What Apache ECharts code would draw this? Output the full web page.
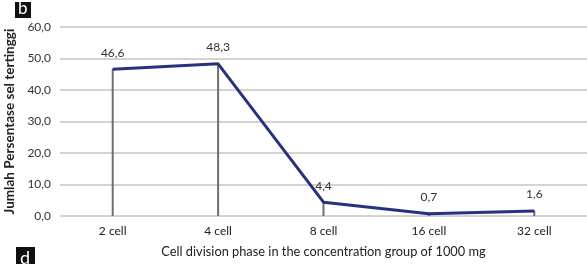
<!DOCTYPE html>
<html>
<head>
<meta charset="utf-8">
<script src="https://cdn.jsdelivr.net/npm/echarts@6/dist/echarts.min.js"></script>
<style>
  html, body { margin: 0; padding: 0; background: #fff; }
  #main { width: 587px; height: 264px; }
</style>
</head>
<body>
<div id="main"></div>
<script>
// fase pembelahan sel
const categories = ['2 cell', '4 cell', '8 cell', '16 cell', '32 cell'];
const percentValues = [46.6, 48.3, 4.4, 0.7, 1.6];
const yTicks = [0, 10, 20, 30, 40, 50, 60];

const fmt = v => v.toFixed(1).replace('.', ',');
const font = 'Lato, "Open Sans", sans-serif';

let myChart = echarts.init(document.getElementById('main'));

myChart.setOption({
    backgroundColor: '#fff',
    animation: false,
    textStyle: { fontFamily: font },
    grid: { left: 60, right: 0, top: 27, bottom: 48, outerBoundsMode: 'none' },
    xAxis: {
        type: 'category',
        data: categories,
        name: 'Cell division phase in the concentration group of 1000 mg',
        nameLocation: 'middle',
        nameGap: 29,
        nameTextStyle: { color: '#222', fontSize: 12.8, fontFamily: font },
        axisLine: { show: false },
        axisTick: { show: false },
        axisLabel: { color: '#222', fontSize: 12, margin: 9, fontFamily: font }
    },
    yAxis: {
        type: 'value',
        min: yTicks[0],
        max: yTicks[yTicks.length - 1],
        interval: 10,
        name: 'Jumlah Persentase sel tertinggi',
        nameLocation: 'middle',
        nameGap: 38,
        nameTextStyle: { color: '#222', fontSize: 13.5, fontWeight: 'bold', fontFamily: font },
        axisLabel: { color: '#333', fontSize: 12, margin: 9, formatter: fmt, fontFamily: font },
        splitLine: { lineStyle: { color: '#c4c4c4', width: 1.5 } }
    },
    series: [{
        // garis jatuh (drop lines)
        type: 'bar',
        data: percentValues,
        barWidth: 2,
        itemStyle: { color: '#6e6e6e' },
        z: 1
    }, {
        type: 'line',
        data: percentValues,
        symbol: 'circle',
        symbolSize: 1,
        itemStyle: { color: '#27327f' },
        lineStyle: { color: '#27327f', width: 3 },
        label: {
            show: true,
            position: 'top',
            distance: 10,
            color: '#333',
            fontSize: 12,
            fontFamily: font,
            formatter: p => fmt(p.value)
        },
        z: 3
    }],
    graphic: [{
        type: 'group',
        left: 15,
        top: 0,
        children: [{
            type: 'rect',
            shape: { x: 0, y: 0, width: 16, height: 16 },
            style: { fill: '#111' }
        }, {
            type: 'text',
            x: 3,
            y: -2,
            style: { text: 'b', fill: '#fff', fontSize: 17, fontFamily: font }
        }]
    }, {
        type: 'group',
        left: 16,
        top: 247,
        children: [{
            type: 'rect',
            shape: { x: 0, y: 0, width: 19, height: 17 },
            style: { fill: '#111' }
        }, {
            type: 'text',
            x: 4,
            y: 2,
            style: { text: 'd', fill: '#fff', fontSize: 18, fontFamily: font }
        }]
    }]
});
</script>
</body>
</html>
